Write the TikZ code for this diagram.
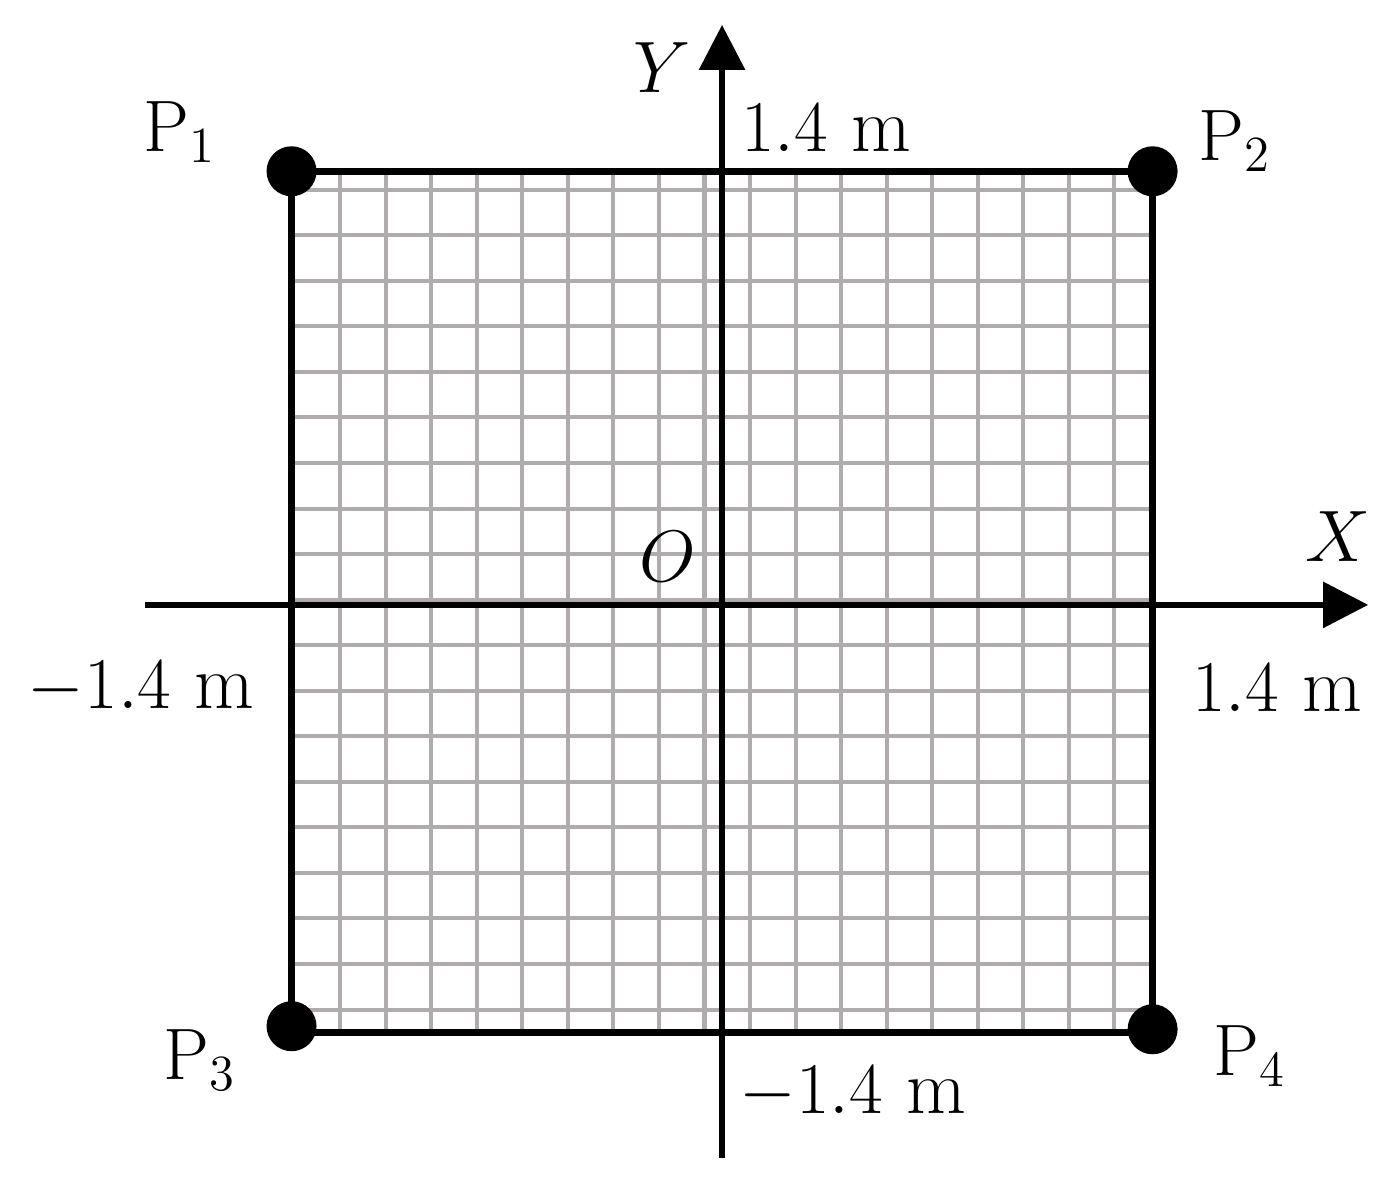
\documentclass[tikz,border=0pt]{standalone}
\usepackage{amsmath}
\usepackage{tikz}
\usetikzlibrary{positioning, arrows.meta}
\usepackage{xcolor}
\definecolor{gridgray}{RGB}{176,172,172}

\begin{document}
\begin{tikzpicture}[x=3.075cm, y=3.075cm, >={Triangle[length=4.5mm,width=4.5mm]},
                font=\fontsize{22}{26}\selectfont,
                gridline/.style={draw=gridgray, line width=1.15pt},
                edge/.style={line width=1.9pt},
                axis/.style={->, line width=1.7pt},
                corner/.style={circle, fill=black, inner sep=0pt, minimum size=5mm}]

                \useasboundingbox (-2.348,-1.870) rectangle (2.185,1.967);

                % grid
                \foreach \k in {0,...,17}
                    \draw[gridline] (-1.242+0.1481*\k,-1.39) -- (-1.242+0.1481*\k,1.41);
                \foreach \k in {0,...,18}
                    \draw[gridline] (-1.4,1.350-0.1481*\k) -- (1.4,1.350-0.1481*\k);

                \coordinate (c1) at (-1.4,1.41);
                \coordinate (c2) at (1.4,1.41);
                \coordinate (c3) at (-1.4,-1.39);
                \coordinate (c4) at (1.4,-1.39);
                \draw[edge] (c1) -- (c2) -- (c4) -- (c3) -- cycle;

                % axes
                \coordinate (xstart) at (-1.876,0);
                \coordinate (xend) at (2.101,0);
                \coordinate (ystart) at (0,-1.798);
                \coordinate (yend) at (0,1.886);
                \draw[axis] (xstart) -- (xend);
                \draw[axis] (ystart) -- (yend);

                \node[corner] (p1) at (c1) {};
                \node[corner] (p2) at (c2) {};
                \node[corner] (p3) at (-1.4,-1.37) {};
                \node[corner] (p4) at (1.4,-1.38) {};

                \node (lp1) at (-1.763,1.538) {$\mathrm{P}_1$};
                \node (lp2) at (1.668,1.509) {$\mathrm{P}_2$};
                \node (lp3) at (-1.698,-1.480) {$\mathrm{P}_3$};
                \node (lp4) at (1.717,-1.467) {$\mathrm{P}_4$};

                \node (ylab) at (-0.195,1.746) {$Y$};
                \node (xlab) at (2.003,0.221) {$X$};
                \node (olab) at (-0.176,0.156) {$O$};

                \node (ytop) at (0.338,1.551) {$1.4$ m};
                \node (ybot) at (0.426,-1.587) {$-1.4$ m};
                \node (xleft) at (-1.889,-0.270) {$-1.4$ m};
                \node (xright) at (1.805,-0.270) {$1.4$ m};

            \end{tikzpicture}
\end{document}
